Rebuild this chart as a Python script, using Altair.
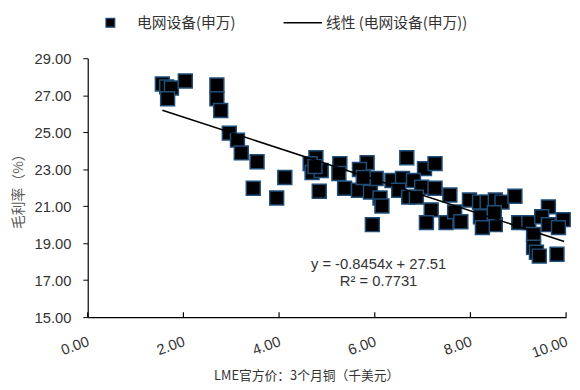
import altair as alt
import pandas as pd

# LME copper 3M price (thousand USD) vs gross margin (%)
copper_price = [1.56, 1.65, 1.75, 1.67, 2.04, 2.70, 2.70, 2.78, 2.96, 3.13,
                3.21, 3.54, 4.12, 3.46, 3.95, 4.77, 4.65, 4.69, 4.88, 4.75,
                4.84, 5.27, 5.25, 5.37, 5.84, 5.68, 5.66, 5.91, 6.03, 5.76,
                6.11, 6.15, 5.95, 6.67, 7.04, 7.26, 6.36, 6.58, 6.81, 6.98,
                7.26, 6.50, 6.71, 6.87, 7.18, 7.08, 7.57, 7.49, 7.67, 7.80,
                7.98, 8.19, 8.35, 8.52, 8.66, 8.93, 8.21, 8.52, 8.25, 8.50,
                9.01, 9.22, 9.63, 9.49, 9.63, 9.94, 9.84, 9.32, 9.32, 9.38,
                9.44, 9.81]
gross_margin = [27.61, 27.45, 27.39, 26.81, 27.77, 27.55, 26.81, 26.17, 24.95, 24.57,
                23.88, 23.40, 22.55, 21.97, 21.44, 23.62, 23.30, 22.82, 22.93, 23.14,
                21.81, 23.30, 22.77, 21.97, 23.35, 22.98, 21.86, 21.76, 22.50, 22.55,
                21.44, 21.01, 20.00, 23.62, 23.03, 23.30, 22.39, 22.50, 22.39, 22.02,
                21.97, 21.86, 21.49, 21.49, 20.80, 20.11, 21.60, 20.11, 20.69, 20.16,
                21.33, 21.22, 21.22, 21.33, 21.22, 21.54, 20.43, 20.00, 19.84, 20.64,
                20.11, 20.11, 20.96, 20.43, 20.00, 20.27, 19.84, 19.47, 18.78, 18.51,
                18.30, 18.40]

x_ticks = [0, 2, 4, 6, 8, 10]
y_ticks = [15, 17, 19, 21, 23, 25, 27, 29]

slope = -0.8454
intercept = 27.51
fit_x = [1.56, 9.96]

eq_text = ["y = -0.8454x + 27.51", "R² = 0.7731"]
eq_x = [6.08, 6.08]
eq_y = [17.85, 16.95]

legend_labels = ["电网设备(申万)", "线性 (电网设备(申万))"]

W, H = 486, 263
NUM_FONT = "Liberation Sans"
CJK_FONT = "Noto Sans CJK SC"

xscale = alt.Scale(domain=[0, 10], nice=False, zero=False)
yscale = alt.Scale(domain=[15, 29], nice=False, zero=False)

x_axis = alt.Axis(
    values=x_ticks, format=".2f", labelAngle=340, labelAlign="right",
    labelBaseline="top", labelPadding=17, labelOffset=-2, ticks=False, tickSize=0,
    grid=False, domainColor="black", domainWidth=1.2,
    labelFont=NUM_FONT, labelFontSize=15, labelColor="#333333",
    title="LME官方价：3个月铜（千美元）", titleFont=CJK_FONT, titleFontSize=13,
    titleFontWeight="normal", titleColor="#333333",
    titleX=222, titleY=53, titleAlign="center", titleBaseline="top")
y_axis = alt.Axis(
    values=y_ticks, format=".2f", tickSize=5, tickColor="black",
    labelPadding=12, grid=False, domainColor="black", domainWidth=1.2,
    labelFont=NUM_FONT, labelFontSize=15, labelColor="#333333",
    title="毛利率（%）", titleFont=CJK_FONT, titleFontSize=14,
    titleFontWeight="normal", titleColor="#595959", titlePadding=9)

df = pd.DataFrame({"price": copper_price, "margin": gross_margin})

points = alt.Chart(df).mark_square(
    size=200, fill="black", stroke="#1F4E79", strokeWidth=1.5, opacity=1
).encode(
    x=alt.X("price:Q", scale=xscale, axis=x_axis),
    y=alt.Y("margin:Q", scale=yscale, axis=y_axis),
)

up_ticks = alt.Chart(pd.DataFrame({"price": x_ticks})).mark_rule(
    color="black", strokeWidth=1.2
).encode(
    x=alt.X("price:Q", scale=xscale, axis=x_axis),
    y=alt.value(H),
    y2=alt.value(H - 5),
)

fit = alt.Chart(pd.DataFrame({"price": fit_x})).transform_calculate(
    margin=f"{slope} * datum.price + {intercept}"
).mark_line(color="black", strokeWidth=1.5).encode(
    x=alt.X("price:Q", scale=xscale, axis=x_axis),
    y=alt.Y("margin:Q", scale=yscale, axis=y_axis),
)

eq = alt.Chart(pd.DataFrame({"price": eq_x, "margin": eq_y, "txt": eq_text})).mark_text(
    font=NUM_FONT, fontSize=15, color="#333333", align="center", baseline="middle"
).encode(
    x=alt.X("price:Q", scale=xscale, axis=x_axis),
    y=alt.Y("margin:Q", scale=yscale, axis=y_axis),
    text="txt:N",
)

leg_df = pd.DataFrame({"label": legend_labels})
leg_sq = alt.Chart(leg_df).transform_filter(
    alt.datum.label == legend_labels[0]
).mark_square(size=80, fill="black", stroke="#1F4E79", strokeWidth=1.2, opacity=1).encode(
    x=alt.value(23), y=alt.value(-36)
)
leg_t1 = alt.Chart(leg_df).transform_filter(
    alt.datum.label == legend_labels[0]
).mark_text(font=CJK_FONT, fontSize=15, color="#333333", align="left", baseline="middle").encode(
    x=alt.value(50), y=alt.value(-36), text="label:N"
)
leg_line = alt.Chart(leg_df).transform_filter(
    alt.datum.label == legend_labels[1]
).mark_rule(color="black", strokeWidth=1.5).encode(
    x=alt.value(199), x2=alt.value(238), y=alt.value(-36)
)
leg_t2 = alt.Chart(leg_df).transform_filter(
    alt.datum.label == legend_labels[1]
).mark_text(font=CJK_FONT, fontSize=15, color="#333333", align="left", baseline="middle").encode(
    x=alt.value(242), y=alt.value(-36), text="label:N"
)

chart = alt.layer(points, up_ticks, fit, eq, leg_sq, leg_t1, leg_line, leg_t2).properties(
    width=W, height=H,
    autosize=alt.AutoSizeParams(type="none"),
    padding={"left": 81, "top": 48, "right": 6, "bottom": 70},
).configure_view(strokeWidth=0)

chart.save("out.html", embed_options={"renderer": "svg", "actions": False})
